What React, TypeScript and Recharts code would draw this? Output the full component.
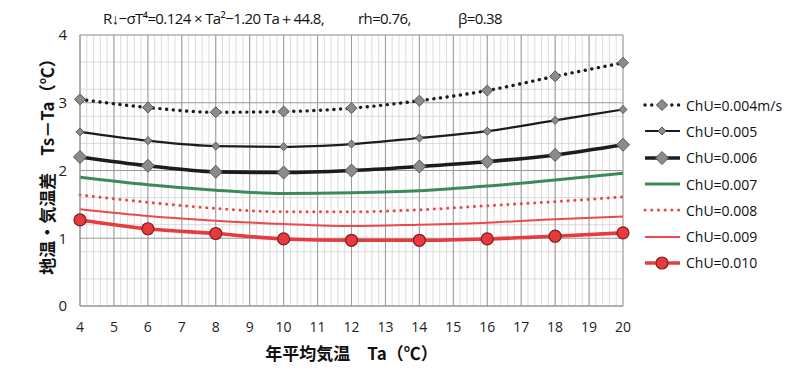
import React from 'react';
import {
  CartesianGrid,
  Legend,
  Line,
  LineChart,
  XAxis,
  YAxis,
} from 'recharts';

// annual mean air temperature (x) and ground-air temperature difference per ChU
const taValues = [4, 6, 8, 10, 12, 14, 16, 18, 20];
const chu004 = [3.05, 2.93, 2.86, 2.87, 2.92, 3.03, 3.18, 3.39, 3.59];
const chu005 = [2.57, 2.44, 2.36, 2.35, 2.39, 2.48, 2.58, 2.74, 2.9];
const chu006 = [2.2, 2.07, 1.98, 1.97, 2.0, 2.06, 2.13, 2.23, 2.38];
const chu007 = [1.9, 1.79, 1.71, 1.66, 1.67, 1.7, 1.77, 1.86, 1.96];
const chu008 = [1.64, 1.53, 1.44, 1.39, 1.39, 1.42, 1.48, 1.54, 1.61];
const chu009 = [1.43, 1.33, 1.26, 1.21, 1.18, 1.2, 1.23, 1.28, 1.32];
const chu010 = [1.27, 1.14, 1.07, 0.99, 0.97, 0.97, 0.99, 1.03, 1.08];

const seriesNames = [
  'ChU=0.004m/s',
  'ChU=0.005',
  'ChU=0.006',
  'ChU=0.007',
  'ChU=0.008',
  'ChU=0.009',
  'ChU=0.010',
];

const xTicks = [4, 5, 6, 7, 8, 9, 10, 11, 12, 13, 14, 15, 16, 17, 18, 19, 20];
const yTicks = [0, 1, 2, 3, 4];

const titleFormula = 'R↓−σT⁴=0.124 × Ta²−1.20 Ta＋44.8,';
const titleRh = 'rh=0.76,';
const titleBeta = 'β=0.38';
const xTitle = '年平均気温　Ta（℃）';
const yTitle = '地温・気温差　Ts－Ta（℃）';

const allSeries = [chu004, chu005, chu006, chu007, chu008, chu009, chu010];
const keys = ['c004', 'c005', 'c006', 'c007', 'c008', 'c009', 'c010'];

const rows = taValues.map((ta, i) => {
  const row: Record<string, number> = { ta };
  keys.forEach((k, s) => {
    row[k] = allSeries[s][i];
  });
  return row;
});

// grid decoration (graph-paper style)
const minorX = Array.from({ length: 81 }, (_, i) => 4 + i * 0.2);
const minorY = Array.from({ length: 41 }, (_, i) => i * 0.1);

type MarkerKind = 'none' | 'diamond' | 'circle';
interface SeriesStyle {
  color: string;
  width: number;
  dash?: string;
  marker: MarkerKind;
  size: number;
}

const styles: SeriesStyle[] = [
  { color: '#1c1c1c', width: 3.4, dash: '0.1 6.6', marker: 'diamond', size: 5.5 },
  { color: '#1c1c1c', width: 2.2, marker: 'diamond', size: 4 },
  { color: '#1c1c1c', width: 3.6, marker: 'diamond', size: 6.5 },
  { color: '#3b8a5d', width: 3, marker: 'none', size: 0 },
  { color: '#e9474b', width: 3, dash: '0.1 6.6', marker: 'none', size: 0 },
  { color: '#ec4a4a', width: 2, marker: 'none', size: 0 },
  { color: '#e63b3f', width: 3.6, marker: 'circle', size: 6 },
];

function Marker({ cx, cy, st }: { cx: number; cy: number; st: SeriesStyle }) {
  if (st.marker === 'diamond') {
    const s = st.size;
    return (
      <polygon
        points={`${cx},${cy - s} ${cx + s},${cy} ${cx},${cy + s} ${cx - s},${cy}`}
        fill="#8b8b8b"
        stroke="#555"
        strokeWidth={1}
      />
    );
  }
  if (st.marker === 'circle') {
    return <circle cx={cx} cy={cy} r={st.size} fill="#e8393d" stroke="#7a2020" strokeWidth={1.2} />;
  }
  return null;
}

function makeDot(st: SeriesStyle) {
  if (st.marker === 'none') return false;
  return (props: any) => (
    <g key={`${props.dataKey}-${props.index}`}>
      <Marker cx={props.cx} cy={props.cy} st={st} />
    </g>
  );
}

function LegendBox() {
  return (
    <div style={{ fontFamily: '"Open Sans", "Noto Sans", sans-serif', fontSize: 14, color: '#111' }}>
      {seriesNames.map((name, i) => {
        const st = styles[i];
        return (
          <div key={name} style={{ display: 'flex', alignItems: 'center', height: 26.3 }}>
            <svg width={40} height={20} style={{ marginRight: 4 }}>
              <line
                x1={3}
                y1={10}
                x2={38}
                y2={10}
                stroke={st.color}
                strokeWidth={st.width}
                strokeDasharray={st.dash}
                strokeLinecap={st.dash ? 'round' : 'butt'}
              />
              <Marker cx={20} cy={10} st={st} />
            </svg>
            <span>{name}</span>
          </div>
        );
      })}
    </div>
  );
}

function YTitle(props: any) {
  const vb = props.viewBox || { x: 40, y: 35, height: 271 };
  const x = vb.x + 6;
  const y = vb.y + vb.height / 2 - 8;
  return (
    <text
      x={x}
      y={y}
      transform={`rotate(-90, ${x}, ${y})`}
      textAnchor="middle"
      dominantBaseline="central"
      fontFamily='"Noto Sans CJK JP", sans-serif'
      fontWeight={700}
      fontSize={17}
      fill="#111"
    >
      {yTitle}
    </text>
  );
}

export default function App() {
  return (
    <div
      style={{
        position: 'absolute',
        left: 0,
        top: 0,
        width: 800,
        height: 381,
        background: '#fff',
      }}
    >
      <div
        style={{
          position: 'absolute',
          top: 8,
          left: 0,
          width: 800,
          height: 22,
          fontFamily: '"Open Sans", sans-serif',
          fontSize: 15,
          letterSpacing: -0.6,
          color: '#111',
          whiteSpace: 'pre',
        }}
      >
        <span style={{ position: 'absolute', left: 103 }}>{titleFormula}</span>
        <span style={{ position: 'absolute', left: 358 }}>{titleRh}</span>
        <span style={{ position: 'absolute', left: 458 }}>{titleBeta}</span>
      </div>
      <LineChart
        width={800}
        height={381}
        data={rows}
        margin={{ top: 35, right: 177, bottom: 45, left: 40 }}
      >
        <CartesianGrid
          stroke="#cdcdcd"
          strokeWidth={0.7}
          verticalValues={minorX}
          horizontalValues={minorY}
        />
        <CartesianGrid
          stroke="#9a9a9a"
          strokeWidth={1}
          verticalValues={xTicks}
          horizontalValues={yTicks}
        />
        <XAxis
          dataKey="ta"
          type="number"
          domain={[4, 20]}
          ticks={xTicks}
          interval={0}
          axisLine={{ stroke: '#9a9a9a' }}
          tickLine={false}
          tickMargin={10}
          tick={{ fill: '#222', fontSize: 14, fontFamily: '"Open Sans", sans-serif' }}
          label={{
            value: xTitle,
            position: 'bottom',
            offset: 12,
            fill: '#111',
            fontSize: 17,
            fontWeight: 700,
            fontFamily: '"Noto Sans CJK JP", sans-serif',
          }}
        />
        <YAxis
          type="number"
          domain={[0, 4]}
          ticks={yTicks}
          width={40}
          axisLine={{ stroke: '#9a9a9a' }}
          tickLine={false}
          tickMargin={7}
          tick={{ fill: '#222', fontSize: 15, fontFamily: '"Open Sans", sans-serif' }}
          label={<YTitle />}
        />
        <Legend
          layout="horizontal"
          verticalAlign="middle"
          align="center"
          wrapperStyle={{ left: 642, top: 92, width: 158 }}
          content={() => <LegendBox />}
        />
        {keys.map((k, i) => (
          <Line
            key={k}
            type="monotone"
            dataKey={k}
            name={seriesNames[i]}
            stroke={styles[i].color}
            strokeWidth={styles[i].width}
            strokeDasharray={styles[i].dash}
            strokeLinecap={styles[i].dash ? 'round' : 'butt'}
            dot={makeDot(styles[i])}
            activeDot={false}
            isAnimationActive={false}
          />
        ))}
      </LineChart>
    </div>
  );
}
